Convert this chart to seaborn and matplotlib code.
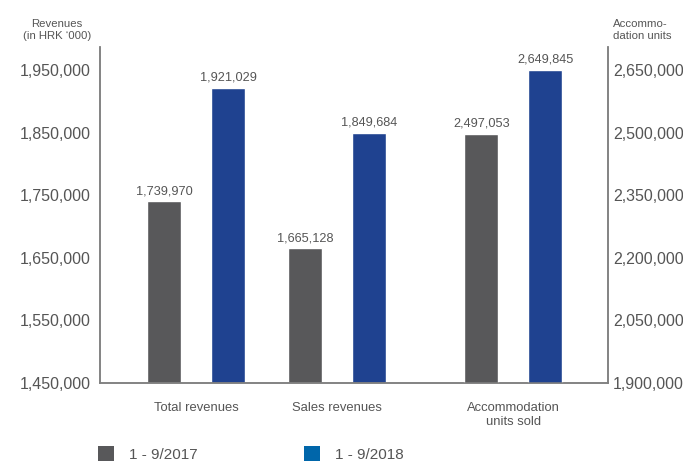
import pandas as pd
import matplotlib.pyplot as plt
import seaborn as sns
from matplotlib.patches import Patch

sns.set_theme(style="white")
plt.rcParams["font.family"] = ["Liberation Sans", "DejaVu Sans"]

# data
periods = ["1 - 9/2017", "1 - 9/2018"]
categories = ["Total revenues", "Sales revenues", "Accommodation\nunits sold"]
rev_2017 = [1739970, 1665128]
rev_2018 = [1921029, 1849684]
units_2017 = [2497053]
units_2018 = [2649845]

left_ticks = [1450000, 1550000, 1650000, 1750000, 1850000, 1950000]
right_ticks = [1900000, 2050000, 2200000, 2350000, 2500000, 2650000]

# layout: third group sits a bit further away
cat_pos = [0, 1, 2.25]

bar_colors = {"1 - 9/2017": "#58585a", "1 - 9/2018": "#1f4290"}
legend_colors = ["#58585a", "#0066aa"]
txt = "#555555"
spine_c = "#808080"

df_rev = pd.DataFrame({
    "pos": cat_pos[:2] * 2,
    "value": rev_2017 + rev_2018,
    "period": [periods[0]] * 2 + [periods[1]] * 2,
})
df_units = pd.DataFrame({
    "pos": cat_pos[2:] * 2,
    "value": units_2017 + units_2018,
    "period": [periods[0], periods[1]],
})

fig = plt.figure(figsize=(6.83, 4.62), dpi=100)
ax = fig.add_axes([100 / 683, 1 - 383 / 462, 508 / 683, 336 / 462])
ax2 = ax.twinx()

common = dict(x="pos", y="value", hue="period", hue_order=periods,
              palette=bar_colors, native_scale=True, width=0.908, gap=0.47,
              saturation=1, errorbar=None, legend=False)
sns.barplot(data=df_rev, ax=ax, **common)
sns.barplot(data=df_units, ax=ax2, **common)

ax.set_ylim(1450000, 1986700)
ax2.set_ylim(1900000, 2705000)
ax.set_xlim(-0.681, 2.922)
ax2.set_xlim(-0.681, 2.922)

for a in (ax, ax2):
    for c in a.containers:
        a.bar_label(c, fmt="{:,.0f}", padding=3, fontsize=9.2, color=txt)
    a.set_xlabel("")
    a.set_ylabel("")
    a.grid(False)
    for s in a.spines.values():
        s.set_color(spine_c)
        s.set_linewidth(1.1)
    a.spines["top"].set_visible(False)

ax.set_xticks(cat_pos, categories)
ax.tick_params(axis="x", length=0, pad=14, labelsize=9.4, labelcolor=txt)
ax.set_yticks(left_ticks, [f"{v:,}" for v in left_ticks])
ax.tick_params(axis="y", length=0, pad=6.5, labelsize=11.5, labelcolor=txt)
ax2.set_yticks(right_ticks, [f"{v:,}" for v in right_ticks])
ax2.tick_params(axis="y", length=0, pad=3.6, labelsize=11.5, labelcolor=txt)

fig.text(57 / 683, 1 - 30 / 462, "Revenues\n(in HRK \u2018000)", ha="center",
         va="center", fontsize=8.2, color=txt, linespacing=1.25)
fig.text(613 / 683, 1 - 30 / 462, "Accommo-\ndation units", ha="left",
         va="center", fontsize=8.2, color=txt, linespacing=1.25)

handles = [Patch(facecolor=c, edgecolor="none") for c in legend_colors]
fig.legend(handles, periods, loc="center left",
           bbox_to_anchor=(98 / 683, 1 - 454 / 462), ncol=2, frameon=False,
           fontsize=11, labelcolor=txt, handlelength=1.05, handleheight=1.05,
           handletextpad=0.95, columnspacing=7.0, borderpad=0,
           borderaxespad=0)

fig.savefig("out.png", dpi=100)
